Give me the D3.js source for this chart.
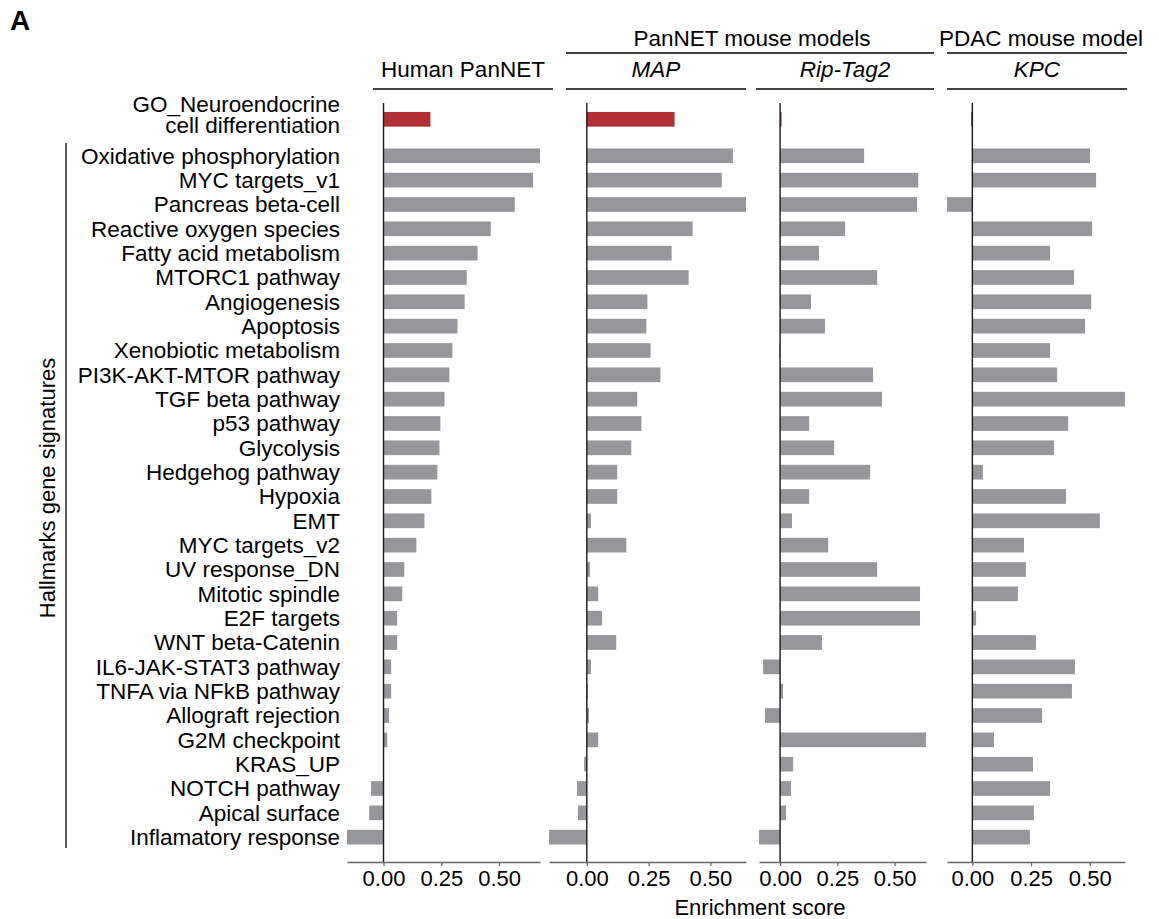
<!DOCTYPE html>
<html>
<head>
<meta charset="utf-8">
<script src="https://cdn.jsdelivr.net/npm/d3@7"></script>
<style>
  body { margin: 0; background: #fff; }
  svg { font-family: "Liberation Sans", Arial, Helvetica, sans-serif; }
</style>
</head>
<body>
<svg id="chart" width="1159" height="919"></svg>
<script>
// Hallmark signatures, top to bottom
const hallmarks = [
  "Oxidative phosphorylation", "MYC targets_v1", "Pancreas beta-cell", "Reactive oxygen species",
  "Fatty acid metabolism", "MTORC1 pathway", "Angiogenesis", "Apoptosis", "Xenobiotic metabolism",
  "PI3K-AKT-MTOR pathway", "TGF beta pathway", "p53 pathway", "Glycolysis", "Hedgehog pathway",
  "Hypoxia", "EMT", "MYC targets_v2", "UV response_DN", "Mitotic spindle", "E2F targets",
  "WNT beta-Catenin", "IL6-JAK-STAT3 pathway", "TNFA via NFkB pathway", "Allograft rejection",
  "G2M checkpoint", "KRAS_UP", "NOTCH pathway", "Apical surface", "Inflamatory response"
];
const goLabel = ["GO_Neuroendocrine", "cell differentiation"];

// enrichment scores per model (GO row kept separately)
const humanScores = [0.677, 0.647, 0.568, 0.464, 0.407, 0.360, 0.351, 0.320, 0.298, 0.285, 0.264, 0.246,
  0.242, 0.233, 0.207, 0.177, 0.142, 0.090, 0.081, 0.059, 0.059, 0.033, 0.033, 0.024, 0.016, 0.002,
  -0.054, -0.062, -0.158];
const mapScores = [0.591, 0.546, 0.644, 0.428, 0.343, 0.412, 0.245, 0.241, 0.258, 0.298, 0.204, 0.221,
  0.180, 0.123, 0.123, 0.017, 0.160, 0.013, 0.046, 0.062, 0.119, 0.017, 0.005, 0.009, 0.046, -0.011,
  -0.040, -0.036, -0.153];
const ripTagScores = [0.367, 0.603, 0.598, 0.284, 0.170, 0.424, 0.135, 0.196, -0.004, 0.406, 0.445, 0.127,
  0.236, 0.393, 0.127, 0.052, 0.210, 0.424, 0.611, 0.611, 0.183, -0.074, 0.013, -0.066, 0.637, 0.057,
  0.048, 0.026, -0.092];
const kpcScores = [0.501, 0.527, -0.108, 0.510, 0.331, 0.433, 0.506, 0.480, 0.331, 0.361, 0.650, 0.408,
  0.348, 0.045, 0.399, 0.543, 0.220, 0.228, 0.194, 0.016, 0.271, 0.437, 0.424, 0.297, 0.092, 0.258,
  0.331, 0.262, 0.245];
const goScores = [0.203, 0.355, 0.003, -0.005];

const panelTitles = ["Human PanNET", "MAP", "Rip-Tag2", "KPC"];
const groupTitles = ["PanNET mouse models", "PDAC mouse model"];
const tickValues = [0, 0.25, 0.5];

const svg = d3.select("#chart");

const grey = "#96979b";
const red = "#b03036";
const labelSize = "22.5px";
const headerSize = "22.5px";
const tickSize = "22px";

// Layout: each panel has its own axis range and header line
const panels = [
  { title: panelTitles[0], italic: false, scores: humanScores, go: goScores[0], range: [347, 540], header: [373, 553] },
  { title: panelTitles[1], italic: true, scores: mapScores, go: goScores[1], range: [549, 746], header: [566, 746] },
  { title: panelTitles[2], italic: true, scores: ripTagScores, go: goScores[2], range: [759, 926], header: [756, 934] },
  { title: panelTitles[3], italic: true, scores: kpcScores, go: goScores[3], range: [947, 1125], header: [947, 1127] }
];

const plotTop = 103;
const plotBottom = 862;

// Row positions: GO row at 0, then half-row gap before hallmarks
const rowPos = i => 1.5 + i;
const y = d3.scaleLinear().domain([-0.67, 30.52]).range([plotTop, plotBottom]);
const barH = 14.7;

// Panel label "A"
svg.append("text")
  .attr("x", 10).attr("y", 30)
  .attr("font-size", "28px").attr("font-weight", "bold")
  .text("A");

// Category labels
const labelX = 340;
svg.append("g")
  .selectAll("text")
  .data(hallmarks)
  .enter()
  .append("text")
  .attr("x", labelX)
  .attr("y", (d, i) => y(rowPos(i)))
  .attr("dy", "0.35em")
  .attr("text-anchor", "end")
  .attr("font-size", labelSize)
  .text(d => d);

const goText = svg.append("text")
  .attr("text-anchor", "end")
  .attr("font-size", labelSize);
goText.selectAll("tspan")
  .data(goLabel)
  .enter()
  .append("tspan")
  .attr("x", labelX)
  .attr("y", (d, i) => 112 + i * 21)
  .text(d => d);

// Bracket and y title
svg.append("line")
  .attr("x1", 66).attr("x2", 66)
  .attr("y1", 143).attr("y2", 848)
  .attr("stroke", "#000").attr("stroke-width", 1.3);

svg.append("text")
  .attr("transform", "translate(55, 488) rotate(-90)")
  .attr("text-anchor", "middle")
  .attr("font-size", "22px")
  .text("Hallmarks gene signatures");

// Draw each panel
panels.forEach(p => {
  const ext = d3.extent(p.scores.concat([p.go, 0]));
  const x = d3.scaleLinear().domain(ext).range(p.range);
  const g = svg.append("g");

  // hallmark bars
  g.selectAll("rect.bar")
    .data(p.scores)
    .enter()
    .append("rect")
    .attr("class", "bar")
    .attr("x", d => x(Math.min(0, d)))
    .attr("width", d => Math.abs(x(d) - x(0)))
    .attr("y", (d, i) => y(rowPos(i)) - barH / 2)
    .attr("height", barH)
    .attr("fill", grey);

  // GO bar
  g.append("rect")
    .attr("x", x(Math.min(0, p.go)))
    .attr("width", Math.max(1.5, Math.abs(x(p.go) - x(0))))
    .attr("y", y(0) - barH / 2)
    .attr("height", barH)
    .attr("fill", red);

  // zero line
  g.append("line")
    .attr("x1", x(0)).attr("x2", x(0))
    .attr("y1", plotTop).attr("y2", plotBottom)
    .attr("stroke", "#1a1a1a").attr("stroke-width", 1.4);

  // x axis
  const axis = g.append("g")
    .attr("transform", `translate(0, ${plotBottom})`)
    .call(d3.axisBottom(x).tickValues(tickValues).tickFormat(d3.format(".2f")).tickSizeOuter(0).tickSizeInner(4).tickPadding(4));
  axis.select(".domain").attr("stroke", "#666").attr("stroke-width", 1.6);
  axis.selectAll(".tick line").attr("stroke", "#666").attr("stroke-width", 1.2);
  axis.selectAll(".tick text")
    .attr("font-size", tickSize)
    .attr("font-family", "\"Liberation Sans\", Arial, sans-serif")
    .attr("fill", "#000");

  // header
  g.append("line")
    .attr("x1", p.header[0]).attr("x2", p.header[1])
    .attr("y1", 89).attr("y2", 89)
    .attr("stroke", "#000").attr("stroke-width", 1.3);
  g.append("text")
    .attr("x", (p.header[0] + p.header[1]) / 2)
    .attr("y", 77)
    .attr("text-anchor", "middle")
    .attr("font-size", headerSize)
    .attr("font-style", p.italic ? "italic" : "normal")
    .text(p.title);
});

// Group headers above the mouse model panels
const groups = [
  { title: groupTitles[0], span: [566, 934], cx: 752 },
  { title: groupTitles[1], span: [947, 1127], cx: 1041 }
];
groups.forEach(gr => {
  svg.append("line")
    .attr("x1", gr.span[0]).attr("x2", gr.span[1])
    .attr("y1", 53).attr("y2", 53)
    .attr("stroke", "#000").attr("stroke-width", 1.3);
  svg.append("text")
    .attr("x", gr.cx).attr("y", 46)
    .attr("text-anchor", "middle")
    .attr("font-size", headerSize)
    .text(gr.title);
});

// x title
svg.append("text")
  .attr("x", 760).attr("y", 915)
  .attr("text-anchor", "middle")
  .attr("font-size", "22px")
  .text("Enrichment score");
</script>
</body>
</html>
